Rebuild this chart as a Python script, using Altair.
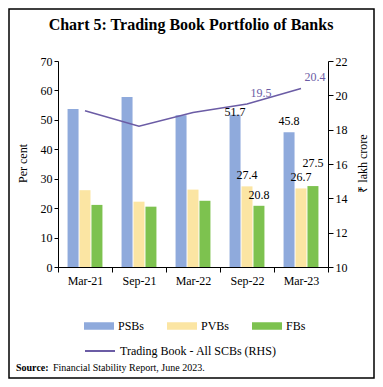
import altair as alt
import pandas as pd

periods = ["Mar-21", "Sep-21", "Mar-22", "Sep-22", "Mar-23"]
groups = ["PSBs", "PVBs", "FBs"]
psb = [53.7, 57.8, 51.6, 51.7, 45.8]
pvb = [26.1, 22.2, 26.3, 27.4, 26.7]
fb = [21.1, 20.5, 22.5, 20.8, 27.5]
trading_book = [19.1, 18.2, 19.0, 19.5, 20.4]
labelled_periods = ["Sep-22", "Mar-23"]
line_name = "Trading Book - All SCBs (RHS)"
chart_title = "Chart 5: Trading Book Portfolio of Banks"
bar_colors = ["#8FAADC", "#FBE5A3", "#7DC24F"]
line_color = "#6B5CA5"
FONT = "Liberation Serif"

rows = []
for i, p in enumerate(periods):
    for g, vals in zip(groups, [psb, pvb, fb]):
        rows.append({"period": p, "group": g, "value": vals[i],
                     "label": f"{vals[i]:.1f}" if p in labelled_periods else ""})
bars_df = pd.DataFrame(rows)
line_df = pd.DataFrame({"period": periods, "tb": trading_book,
                        "name": [line_name] * len(periods),
                        "label": [f"{v:.1f}" if p in labelled_periods else ""
                                  for p, v in zip(periods, trading_book)]})

x_enc = alt.X("period:N", sort=periods,
              scale=alt.Scale(paddingInner=0, paddingOuter=0),
              axis=alt.Axis(title=None, labelAngle=0, tickBand="extent",
                            domainColor="black", tickColor="black", tickSize=5,
                            labelFontSize=12, labelPadding=3, labelColor="black"))
xoff = alt.XOffset("group:N", sort=groups,
                   scale=alt.Scale(paddingInner=0.08, paddingOuter=0.8))
y_left = alt.Y("value:Q", scale=alt.Scale(domain=[0, 70]),
               axis=alt.Axis(orient="left", title="Per cent", values=list(range(0, 71, 10)),
                             domainColor="black", tickColor="black", tickSize=4,
                             labelFontSize=12, titleFontSize=12, titleFontWeight="normal",
                             titleX=-36, titleY=102, titleAngle=270, titleAlign="center",
                             titleBaseline="middle",
                             labelColor="black", titleColor="black"))

base_bar = alt.Chart(bars_df)
bars = base_bar.mark_bar().encode(
    x=x_enc, xOffset=xoff, y=y_left,
    color=alt.Color("group:N", sort=groups,
                    scale=alt.Scale(domain=groups, range=bar_colors),
                    legend=alt.Legend(orient="none", legendX=26, legendY=250,
                                      direction="horizontal", title=None,
                                      symbolType="M-1,-0.25H1V0.25H-1Z",
                                      symbolSize=900, symbolStrokeWidth=0,
                                      labelFontSize=12, labelFont=FONT,
                                      labelOffset=4, columnPadding=22)))

def bar_text(flt, dy):
    return base_bar.transform_filter(flt).mark_text(
        baseline="middle", dy=dy, fontSize=12, font=FONT, color="black"
    ).encode(x=x_enc, xOffset=xoff, y=y_left, text="label:N")

txt_general = bar_text("datum.label != '' && !(datum.period == 'Mar-23' && datum.group == 'FBs') && !(datum.period == 'Sep-22' && datum.group == 'PSBs')", -11)
txt_high = bar_text("datum.period == 'Mar-23' && datum.group == 'FBs'", -23)
txt_low = bar_text("datum.period == 'Sep-22' && datum.group == 'PSBs'", -3)

y_right = alt.Y("tb:Q", scale=alt.Scale(domain=[10, 22]),
                axis=alt.Axis(orient="right", title="₹ lakh crore", values=list(range(10, 23, 2)),
                              domainColor="black", tickColor="black", tickSize=5,
                              labelFontSize=12, titleFontSize=12, titleFontWeight="normal",
                              titleX=34, titleY=102, titleAngle=270, titleAlign="center",
                              titleBaseline="middle",
                              labelColor="black", titleColor="black"))
line = alt.Chart(line_df).mark_line(strokeWidth=1.6).encode(
    x=alt.X("period:N", sort=periods), y=y_right,
    stroke=alt.Stroke("name:N", scale=alt.Scale(domain=[line_name], range=[line_color]),
                      legend=alt.Legend(orient="none", legendX=26, legendY=274, title=None,
                                        symbolType="stroke", symbolSize=900,
                                        symbolStrokeWidth=2, labelFontSize=12,
                                        labelFont=FONT, labelOffset=4, labelLimit=400)))
line_text = alt.Chart(line_df).transform_filter("datum.label != ''").mark_text(
    dx=14, dy=-11, fontSize=12, font=FONT, color=line_color
).encode(x=alt.X("period:N", sort=periods), y=y_right, text="label:N")

one = pd.DataFrame({"k": [0]})
title_txt = alt.Chart(one).mark_text(align="center", baseline="middle", fontSize=16, font=FONT,
                                     fontWeight="bold", color="black").encode(
    x=alt.value(133), y=alt.value(-36), text=alt.value(chart_title))
src1 = alt.Chart(one).mark_text(align="left", baseline="middle", fontSize=10, font=FONT,
                                fontWeight="bold", color="black").encode(
    x=alt.value(-42), y=alt.value(307), text=alt.value("Source:"))
src2 = alt.Chart(one).mark_text(align="left", baseline="middle", fontSize=10, font=FONT,
                                color="black").encode(
    x=alt.value(-5), y=alt.value(307), text=alt.value("Financial Stability Report, June 2023."))
frame = alt.Chart(one).mark_rect(fill="transparent", stroke="black", strokeWidth=1.5).encode(
    x=alt.value(-49), x2=alt.value(316), y=alt.value(-52), y2=alt.value(317))

left = alt.layer(bars, txt_general, txt_high, txt_low)
right = alt.layer(line, line_text)
chart = alt.layer(left, right, title_txt, src1, src2, frame).resolve_scale(
    y="independent", color="independent", stroke="independent"
).properties(
    width=270, height=206,
    autosize=alt.AutoSizeParams(type="none"),
    padding={"left": 50, "top": 53, "right": 47, "bottom": 112},
).configure_view(stroke=None).configure_axis(
    grid=False, labelFont=FONT, titleFont=FONT
)

chart.save("out.html", embed_options={"renderer": "svg", "actions": False})
